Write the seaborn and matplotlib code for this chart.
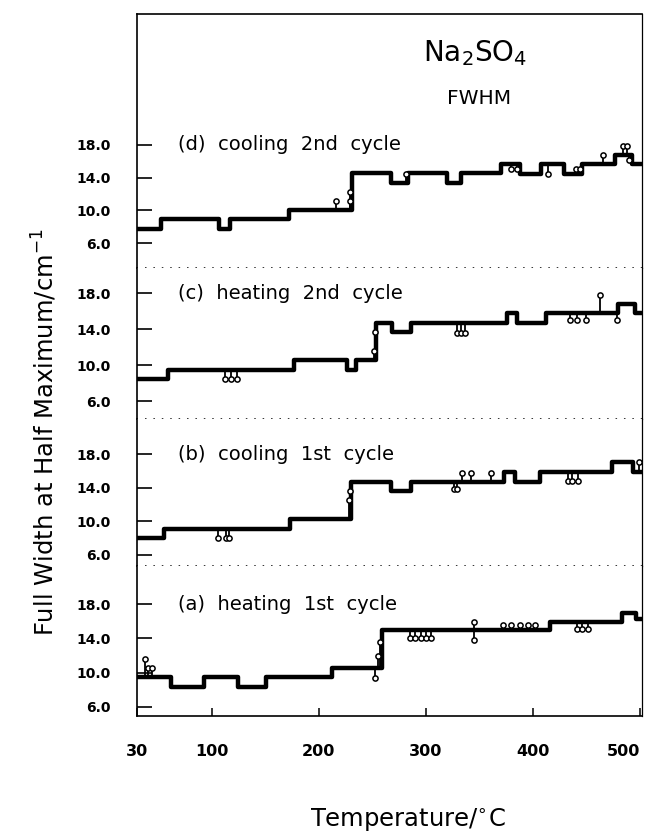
import numpy as np
import pandas as pd
import matplotlib
matplotlib.use("Agg")
import matplotlib.pyplot as plt
import seaborn as sns

sns.set_theme(style="white")
plt.rcParams["font.family"] = ["DejaVu Sans"]
plt.rcParams["mathtext.fontset"] = "dejavusans"
plt.rcParams["text.color"] = "black"
plt.rcParams["axes.labelcolor"] = "black"
plt.rcParams["xtick.color"] = "black"
plt.rcParams["ytick.color"] = "black"

# ---------------- data (temperature in deg C, FWHM in cm-1) ----------------
# step levels: T where each level starts, last entry = end of trace
d_T = [29.5, 52, 107, 117, 172, 231, 267, 283, 320, 333, 370, 388, 408, 429, 446, 477, 493, 502]
d_v = [7.7, 8.9, 7.7, 8.9, 10.0, 14.6, 13.4, 14.6, 13.4, 14.6, 15.7, 14.5, 15.7, 14.5, 15.7, 16.8, 15.7, 15.7]
d_oT = [216, 229, 229.5, 281, 380, 385, 414, 440, 444, 466, 484, 488, 490]
d_ov = [11.1, 11.1, 12.2, 14.5, 15.0, 15.0, 14.5, 15.1, 15.1, 16.8, 17.9, 17.9, 16.2]

c_T = [29.5, 58.6, 176.6, 226, 235, 253, 268, 286, 376, 385, 412, 480, 495, 502]
c_v = [8.5, 9.5, 10.55, 9.5, 10.55, 14.7, 13.7, 14.7, 15.75, 14.7, 15.75, 16.8, 15.75, 15.75]
c_oT = [112, 118, 123, 251.5, 252.5, 329, 333, 337, 435, 441, 449.6, 462.6, 479]
c_ov = [8.4, 8.4, 8.4, 11.6, 13.7, 13.6, 13.6, 13.6, 15.0, 15.0, 15.0, 17.8, 15.0]

b_T = [29.5, 55.6, 173, 230, 267, 286, 373, 383, 407, 474, 494, 502]
b_v = [8.0, 9.06, 10.3, 14.7, 13.6, 14.7, 15.9, 14.7, 15.9, 17.1, 15.9, 15.9]
b_oT = [106, 113, 116, 228, 229, 326, 329, 333.5, 342.6, 360.4, 433, 437, 442, 499]
b_ov = [8.0, 8.0, 8.0, 12.5, 13.6, 13.8, 13.8, 15.8, 15.8, 15.8, 14.8, 14.8, 14.8, 17.0]

a_T = [29.5, 61.7, 92.4, 124.7, 150.6, 212, 259, 415.7, 483.6, 496.5, 502]
a_v = [9.46, 8.3, 9.46, 8.3, 9.46, 10.6, 15.0, 15.95, 17.0, 16.3, 16.3]
a_oT = [37.4, 40, 43.9, 252, 255, 257, 285, 290, 295, 300, 305, 344.6, 345, 372, 380, 388, 395, 402, 441.6, 446, 451.3]
a_ov = [11.55, 10.5, 10.5, 9.4, 11.9, 13.6, 14.0, 14.0, 14.0, 14.0, 14.0, 15.9, 13.8, 15.6, 15.6, 15.6, 15.6, 15.6, 15.1, 15.1, 15.1]

panel_labels = ["(d)  cooling  2nd  cycle", "(c)  heating  2nd  cycle",
                "(b)  cooling  1st  cycle", "(a)  heating  1st  cycle"]
y_ticks = [6, 10, 14, 18]
y_ticklabels = ["6.0", "10.0", "14.0", "18.0"]
x_ticks = [30, 100, 200, 300, 400, 500]
x_ticklabels = ["30", "100", "200", "300", "400", "500"]

panels = [(d_T, d_v, d_oT, d_ov), (c_T, c_v, c_oT, c_ov),
          (b_T, b_v, b_oT, b_ov), (a_T, a_v, a_oT, a_ov)]
ylims = [(2.94, 34.03), (4.0, 20.78), (4.69, 22.16), (4.95, 22.43)]

# ---------------- figure ----------------
fig, axes = plt.subplots(4, 1, sharex=True, figsize=(6.45, 8.33), dpi=100,
                         gridspec_kw=dict(height_ratios=[254, 151, 147, 150], hspace=0))
fig.subplots_adjust(left=137/645, right=642/645, top=1-14/833, bottom=1-716/833)

for i, (ax, (T, v, oT, ov), lab, yl) in enumerate(zip(axes, panels, panel_labels, ylims)):
    df = pd.DataFrame({"T": T, "FWHM": v})
    sns.lineplot(data=df, x="T", y="FWHM", ax=ax, color="black", lw=3.2,
                 drawstyle="steps-post", estimator=None, sort=False, zorder=3)
    T_arr = np.asarray(T)
    v_arr = np.asarray(v)
    idx = np.clip(np.searchsorted(T_arr, oT, side="right") - 1, 0, len(v_arr) - 1)
    level = v_arr[idx]
    ax.vlines(oT, level, ov, color="black", lw=1.3, zorder=4)
    sns.scatterplot(x=oT, y=ov, ax=ax, marker="o", s=14, color="white",
                    edgecolor="black", linewidth=1.1, zorder=5, legend=False)

    ax.set_ylim(*yl)
    ax.set_xlim(30, 502)
    ax.set_yticks(y_ticks)
    ax.set_yticklabels(y_ticklabels, fontsize=10, fontweight="bold")
    ax.tick_params(axis="y", direction="in", length=11, width=1.2, pad=19,
                   left=True, right=False, colors="black")
    ax.set_ylabel("")
    ax.set_xlabel("")
    for s in ["left", "right", "top", "bottom"]:
        ax.spines[s].set_color("black")
        ax.spines[s].set_linewidth(1.2)
    ax.spines["right"].set_linewidth(0.9)
    if i != 0:
        ax.spines["top"].set_visible(False)
    if i != 3:
        ax.spines["bottom"].set_visible(False)
        ax.tick_params(axis="x", bottom=False, labelbottom=False)
        ax.axhline(yl[0], xmin=0.015, xmax=1.0, color="black", lw=1.1,
                   ls=(0, (1, 4.5)), clip_on=False, zorder=2)
    ax.text(68, 18, lab, fontsize=14, va="center", ha="left", color="black")

ax = axes[-1]
ax.set_xticks(x_ticks)
ax.set_xticklabels(x_ticklabels, fontsize=11.5, fontweight="bold")
ax.get_xticklabels()[-1].set_ha("right")
ax.tick_params(axis="x", direction="in", length=6, width=1.1, pad=20,
               bottom=True, top=False, colors="black")

fig.text(475/645, 1-53/833, r"Na$_2$SO$_4$", fontsize=20, ha="center", va="center")
fig.text(479/645, 1-98/833, "FWHM", fontsize=14.5, ha="center", va="center")
fig.text(45/645, 1-432/833, r"Full Width at Half Maximum/cm$^{-1}$", fontsize=17.5,
         rotation=90, ha="center", va="center")
fig.text(408/645, 1-820/833, r"Temperature/$^{\circ}$C", fontsize=17.5,
         ha="center", va="center")

fig.savefig("out.png", dpi=100)
